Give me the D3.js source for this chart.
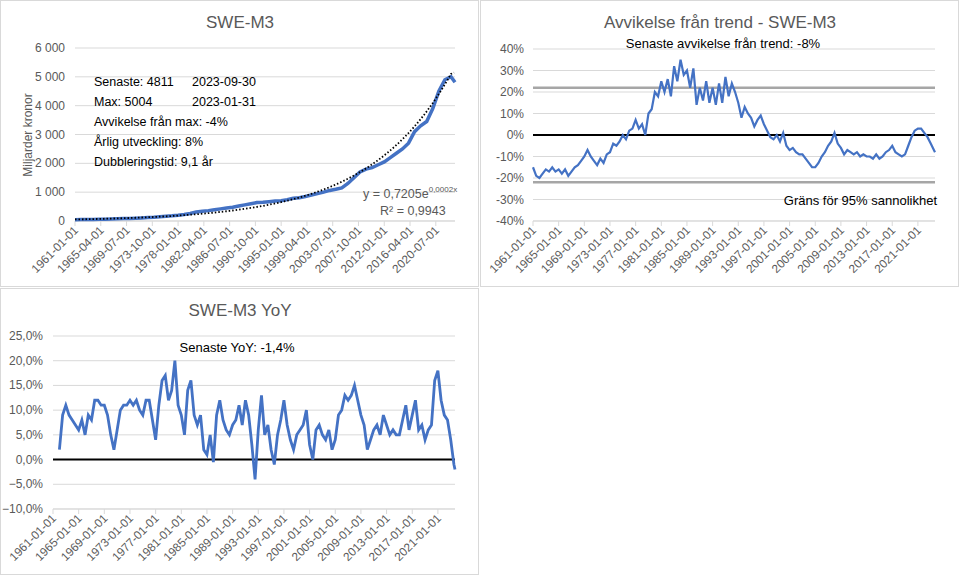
<!DOCTYPE html>
<html><head><meta charset="utf-8">
<script src="https://cdn.jsdelivr.net/npm/d3@7"></script>
<style>body{margin:0;background:#fff}svg{font-family:"Liberation Sans",Arial,sans-serif}</style>
</head><body><svg id="c" width="960" height="576"></svg>
<script>
// ---- DATA ----
// M3 level (miljarder kronor), yearly January readings 1961..2023, then 2023-09
const m3Years = d3.range(1961, 2024);
const m3Values = [45,48,52,56,60,64,70,78,84,88,95,105,118,130,150,165,180,200,225,260,310,340,360,390,420,450,480,520,560,600,640,650,670,690,700,740,790,810,850,900,950,1000,1060,1100,1150,1300,1500,1700,1800,1850,1950,2050,2200,2350,2500,2700,3100,3300,3450,3900,4500,4900,5004];
const m3Last = {date:"2023-09", value:4811};
// Deviation from trend (%), semi-annual (Jan, Jul) 1961..2023, then 2023-09
const devValues = [-15,-19,-20,-18,-16,-17,-15,-17,-16,-18,-16,-19,-17,-15,-14,-12,-10,-7,-10,-12,-14,-11,-13,-9,-8,-4,-5,-3,0,-2,2,3,7,3,5,0,10,12,20,18,25,20,26,18,32,25,35,28,30,22,31,14,22,16,25,15,22,14,24,15,27,18,24,20,15,8,13,10,8,4,7,9,5,2,-1,-2,0,-3,1,-5,-7,-6,-8,-9,-9,-11,-13,-15,-15,-13,-10,-8,-5,-3,1,-4,-6,-9,-7,-8,-9,-8,-10,-9,-10,-10,-11,-9,-11,-10,-8,-7,-5,-8,-9,-10,-9,-5,-1,2,3,3,1,-1,-4];
const devLast = -8;
// YoY growth (%), semi-annual 1962..2023, then 2023-09
const yoyValues = [2,9,11,9,8,7,6,8,5,9,8,12,12,11,11,9,5,2,6,10,11,11,12,11,12,10,9,12,12,8,4,11,16,17,12,14,20,11,9,5,14,16,9,7,9,2,1,5,-0.5,9,12,8,6,5,7,8,11,7,12,9,3,-4,6,13,5,7,2,-1,5,8,12,7,4,2,5,6,7,10,3,0,6,7,5,4,6,2,4,9,10,13,12,13,15,12,9,7,2,4,6,7,5,9,7,5,6,5,5,8,11,6,9,12,6,7,4,6,7,16,18,12,9,8,4,-1];
const yoyLast = -2;
const ticks1 = ["1961-01-01","1965-04-01","1969-07-01","1973-10-01","1978-01-01","1982-04-01","1986-07-01","1990-10-01","1995-01-01","1999-04-01","2003-07-01","2007-10-01","2012-01-01","2016-04-01","2020-07-01"];
const ticks2 = d3.range(1961, 2022, 4).map(y => y + "-01-01");

// ---- helpers ----
const mi = s => { const [y,m] = s.split("-").map(Number); return (y-1961)*12 + (m-1); };
const N = mi("2023-09");
const m3 = m3Years.map((y,i)=>({t:(y-1961)*12, v:m3Values[i]})).concat([{t:mi(m3Last.date), v:m3Last.value}]);
const dev = devValues.map((v,i)=>({t:i*6, v})).concat([{t:N, v:devLast}]);
const yoy = yoyValues.map((v,i)=>({t:12+i*6, v})).concat([{t:N, v:yoyLast}]);

const svg = d3.select("#c");
const grey = "#595959", grid = "#d9d9d9", blue = "#4472c4";
[[0.5,0.5],[480.5,0.5],[0.5,288.5]].forEach(([x,y])=>svg.append("rect").attr("x",x).attr("y",y).attr("width",478).attr("height",286).attr("fill","none").attr("stroke",grid));

function panel(o){
  const g = svg.append("g");
  const x = d3.scaleLinear().domain([0,N]).range([o.x0,o.x1]);
  const y = d3.scaleLinear().domain(o.ydom).range([o.y1,o.y0]);
  o.yticks.forEach(v=>{
    g.append("line").attr("x1",o.x0).attr("x2",o.x1).attr("y1",y(v)).attr("y2",y(v)).attr("stroke",grid);
    g.append("text").attr("x",o.x0-(o.lx||10)).attr("y",y(v)+4).attr("text-anchor","end").attr("font-size",12).attr("fill",grey).text(o.yfmt(v));
  });
  const base = o.ydom[0];
  g.append("line").attr("x1",o.x0).attr("x2",o.x1).attr("y1",y(base)).attr("y2",y(base)).attr("stroke",grid);
  o.xticks.forEach(s=>{
    const px = x(mi(s));
    g.append("line").attr("x1",px).attr("x2",px).attr("y1",y(base)).attr("y2",y(base)+5).attr("stroke",grid);
    g.append("text").attr("transform",`translate(${px+4},${y(base)+10}) rotate(-45)`).attr("text-anchor","end").attr("font-size",11.8).attr("fill",grey).text(s);
  });
  g.append("text").attr("x",o.tx).attr("y",o.ty).attr("text-anchor","middle").attr("font-size",17).attr("fill",grey).text(o.title);
  return {g,x,y};
}

// Panel 1
{
  const {g,x,y} = panel({x0:75,x1:455,y0:48,y1:221,ydom:[0,6000],yticks:d3.range(0,6001,1000),yfmt:v=>d3.format(",")(v).replace(","," "),xticks:ticks1,title:"SWE-M3",tx:240,ty:28});
  g.append("path").datum(m3).attr("fill","none").attr("stroke",blue).attr("stroke-width",3.5).attr("d",d3.line().x(d=>x(d.t)).y(d=>y(d.v)));
  // exponential trendline (log-linear least squares)
  const lr = d3.mean(m3,d=>d.t), ly = d3.mean(m3,d=>Math.log(d.v));
  const k = d3.sum(m3,d=>(d.t-lr)*(Math.log(d.v)-ly))/d3.sum(m3,d=>(d.t-lr)**2);
  const a = ly - k*lr;
  const tr = d3.range(0,N+1,6).map(t=>({t,v:Math.exp(a+k*t)}));
  g.append("path").datum(tr).attr("fill","none").attr("stroke","#000").attr("stroke-width",1.8).attr("stroke-dasharray","1.5,2").attr("d",d3.line().x(d=>x(d.t)).y(d=>y(Math.min(d.v,5150))));
  const ann = [["Senaste: 4811","2023-09-30"],["Max: 5004","2023-01-31"],["Avvikelse från max: -4%"],["Årlig utveckling: 8%"],["Dubbleringstid: 9,1 år"]];
  ann.forEach((r,i)=>{
    g.append("text").attr("x",94).attr("y",86+i*20).attr("font-size",12.5).text(r[0]);
    if(r[1]) g.append("text").attr("x",192).attr("y",86+i*20).attr("font-size",12.5).text(r[1]);
  });
  const t = g.append("text").attr("x",363).attr("y",198).attr("font-size",12.5).attr("fill",grey);
  t.append("tspan").text("y = 0,7205e");
  t.append("tspan").attr("font-size",8).attr("dy",-6).text("0,0002x");
  g.append("text").attr("x",380).attr("y",215).attr("font-size",12.5).attr("fill",grey).text("R² = 0,9943");
  g.append("text").attr("transform","translate(32,135) rotate(-90)").attr("text-anchor","middle").attr("font-size",12).attr("fill",grey).text("Miljarder kronor");
}
// Panel 2
{
  const {g,x,y} = panel({x0:533,x1:935,y0:49,y1:221,ydom:[-40,40],yticks:d3.range(-40,41,10),yfmt:v=>v+"%",xticks:ticks2,title:"Avvikelse från trend - SWE-M3",tx:720,ty:28,lx:9});
  [22,-22].forEach(v=>g.append("line").attr("x1",533).attr("x2",935).attr("y1",y(v)).attr("y2",y(v)).attr("stroke","#a6a6a6").attr("stroke-width",2.5));
  g.append("line").attr("x1",533).attr("x2",935).attr("y1",y(0)).attr("y2",y(0)).attr("stroke","#000").attr("stroke-width",2);
  g.append("path").datum(dev).attr("fill","none").attr("stroke",blue).attr("stroke-width",2.2).attr("d",d3.line().x(d=>x(d.t)).y(d=>y(d.v)));
  g.append("text").attr("x",723).attr("y",48).attr("text-anchor","middle").attr("font-size",13).text("Senaste avvikelse från trend: -8%");
  g.append("text").attr("x",937).attr("y",205).attr("text-anchor","end").attr("font-size",13).text("Gräns för 95% sannolikhet");
}
// Panel 3
{
  const {g,x,y} = panel({x0:53,x1:455,y0:336,y1:509,ydom:[-10,25],yticks:d3.range(-10,26,5),yfmt:v=>d3.format(".1f")(v).replace(".",",")+"%",xticks:ticks2,title:"SWE-M3 YoY",tx:240,ty:316,lx:10});
  g.append("line").attr("x1",53).attr("x2",455).attr("y1",y(0)).attr("y2",y(0)).attr("stroke","#000").attr("stroke-width",2);
  g.append("path").datum(yoy).attr("fill","none").attr("stroke",blue).attr("stroke-width",2.8).attr("d",d3.line().x(d=>x(d.t)).y(d=>y(d.v)));
  g.append("text").attr("x",237).attr("y",352).attr("text-anchor","middle").attr("font-size",13).text("Senaste YoY: -1,4%");
}
</script></body></html>
